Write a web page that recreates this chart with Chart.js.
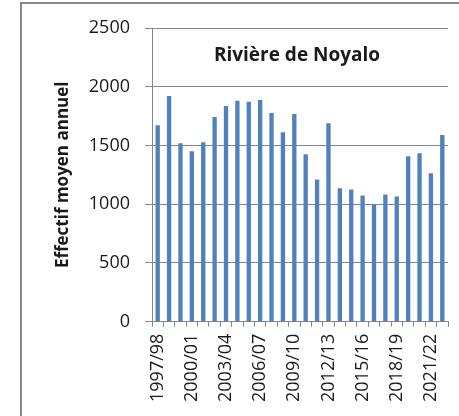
<!DOCTYPE html>
<html>
<head>
<meta charset="utf-8">
<script src="https://cdn.jsdelivr.net/npm/chart.js@4"></script>
<style>
html,body{margin:0;padding:0;background:#fff;}
#wrap{position:relative;width:459px;height:416px;}
</style>
</head>
<body>
<div id="wrap"><canvas id="c" width="459" height="416"></canvas></div>
<script>
const seasons = ["1997/98","1998/99","1999/00","2000/01","2001/02","2002/03","2003/04","2004/05","2005/06","2006/07","2007/08","2008/09","2009/10","2010/11","2011/12","2012/13","2013/14","2014/15","2015/16","2016/17","2017/18","2018/19","2019/20","2020/21","2021/22","2022/23"];
const effectif = [1673,1921,1519,1451,1528,1742,1836,1881,1873,1887,1776,1613,1767,1425,1211,1690,1135,1126,1075,1000,1083,1066,1408,1434,1263,1588];
const yTicks = [0,500,1000,1500,2000,2500];
const chartTitle = "Rivière de Noyalo";
const yTitle = "Effectif moyen annuel";

const gridColor = "#868686";
const textColor = "#1a1a1a";

const framePlugin = {
  id: 'frame',
  beforeDraw(chart){
    const ctx = chart.ctx;
    ctx.save();
    ctx.fillStyle = '#fff';
    ctx.fillRect(0,0,chart.width,chart.height);
    ctx.strokeStyle = '#8a8a8a';
    ctx.lineWidth = 2;
    ctx.beginPath();
    ctx.moveTo(21, chart.height);
    ctx.lineTo(21, 3);
    ctx.lineTo(chart.width, 3);
    ctx.stroke();
    ctx.restore();
  },
  afterDatasetsDraw(chart){
    const ctx = chart.ctx;
    const a = chart.chartArea;
    ctx.save();
    ctx.font = "bold 19px 'Open Sans'";
    ctx.fillStyle = textColor;
    ctx.textAlign = 'center';
    ctx.textBaseline = 'middle';
    ctx.fillText(chartTitle, (a.left + a.right)/2 - 3, a.top + 28);
    ctx.restore();
  }
};

new Chart(document.getElementById('c'), {
  type: 'bar',
  data: {
    labels: seasons,
    datasets: [{
      data: effectif,
      backgroundColor: '#4F81BD',
      categoryPercentage: 1,
      barPercentage: 0.38
    }]
  },
  options: {
    responsive: false,
    animation: false,
    devicePixelRatio: 1,
    layout: { padding: { top: 28, right: 11, left: 0, bottom: 7 } },
    plugins: { legend: { display: false }, tooltip: { enabled: false }, title: { display: false } },
    scales: {
      x: {
        offset: true,
        afterFit(scale){ scale.paddingRight = 0; scale.paddingLeft = 0; },
        grid: { display: true, drawOnChartArea: false, drawTicks: true, tickLength: 5, color: gridColor, offset: true },
        border: { color: gridColor, width: 1 },
        ticks: {
          autoSkip: false, maxRotation: 90, minRotation: 90, padding: 7,
          color: textColor, font: { family: 'Open Sans', size: 18 },
          callback: function(v, i){ return i % 3 === 0 ? seasons[i] : ''; }
        }
      },
      y: {
        min: 0, max: 2500,
        afterFit(scale){ scale.width = 152; },
        afterBuildTicks(scale){ scale.ticks = yTicks.map(v => ({value: v})); },
        grid: { color: gridColor, tickLength: 7, drawTicks: true },
        border: { color: gridColor, width: 1 },
        ticks: { padding: 15, color: textColor, font: { family: 'Open Sans', size: 18 }, callback: v => String(v) },
        title: { display: true, text: yTitle, color: textColor, font: { family: 'Open Sans', size: 17, weight: 'bold' }, padding: { top: 53, bottom: 0 } }
      }
    }
  },
  plugins: [framePlugin]
});
</script>
</body>
</html>
